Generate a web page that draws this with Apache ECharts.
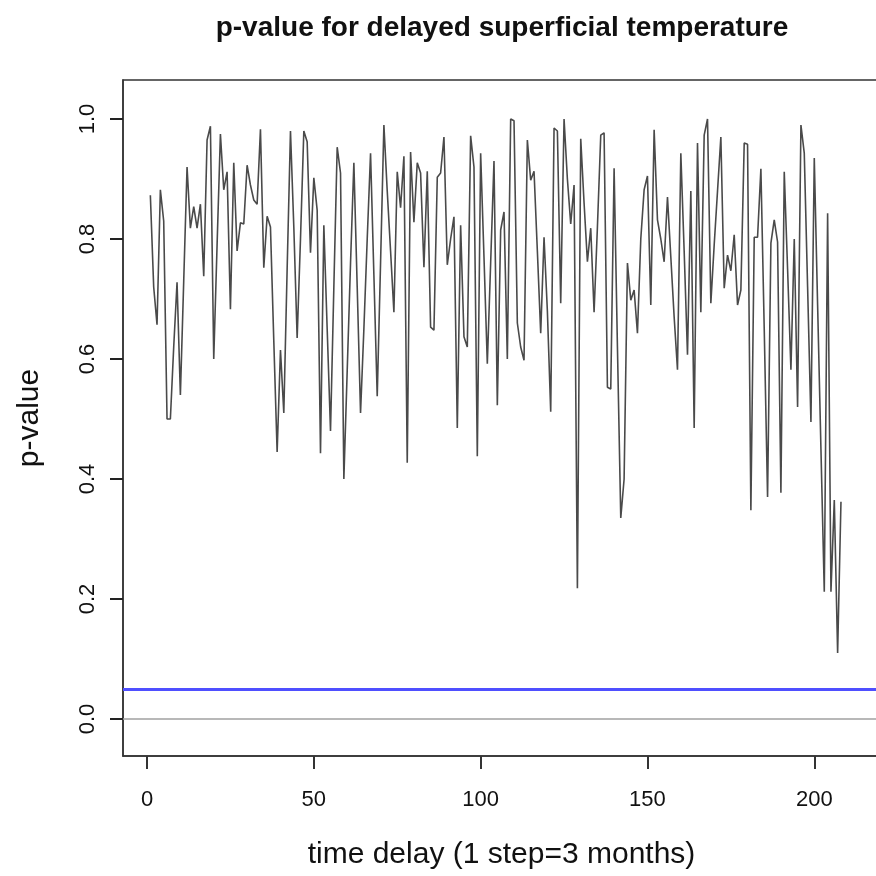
<!DOCTYPE html>
<html>
<head>
<meta charset="utf-8">
<script src="https://cdn.jsdelivr.net/npm/echarts@6/dist/echarts.min.js"></script>
<style>
  html, body { margin: 0; padding: 0; background: #fff; }
  #main { width: 876px; height: 876px; }
</style>
</head>
<body>
<div id="main"></div>
<script>
/* p-value line chart */
var pValues = [
  0.873, 0.72, 0.657, 0.882, 0.83, 0.50, 0.50, 0.62, 0.728, 0.54,
  0.73, 0.92, 0.818, 0.854, 0.818, 0.858, 0.738, 0.965, 0.988, 0.60,
  0.79, 0.975, 0.882, 0.912, 0.683, 0.927, 0.78, 0.827, 0.825, 0.923,
  0.89, 0.865, 0.858, 0.983, 0.752, 0.838, 0.82, 0.63, 0.445, 0.615,
  0.51, 0.75, 0.98, 0.82, 0.635, 0.80, 0.98, 0.962, 0.777, 0.902,
  0.848, 0.443, 0.823, 0.65, 0.48, 0.72, 0.953, 0.91, 0.40, 0.58,
  0.76, 0.927, 0.72, 0.51, 0.65, 0.80, 0.943, 0.74, 0.538, 0.76,
  0.99, 0.88, 0.78, 0.678, 0.912, 0.852, 0.938, 0.427, 0.945, 0.828,
  0.927, 0.91, 0.753, 0.913, 0.653, 0.648, 0.903, 0.91, 0.97, 0.757,
  0.80, 0.837, 0.485, 0.823, 0.637, 0.62, 0.972, 0.92, 0.438, 0.943,
  0.77, 0.592, 0.76, 0.93, 0.523, 0.815, 0.845, 0.60, 1.0, 0.997,
  0.66, 0.62, 0.598, 0.965, 0.898, 0.913, 0.78, 0.643, 0.803, 0.68,
  0.512, 0.985, 0.98, 0.693, 1.0, 0.9, 0.825, 0.89, 0.218, 0.967,
  0.86, 0.762, 0.818, 0.678, 0.82, 0.973, 0.977, 0.553, 0.55, 0.918,
  0.62, 0.335, 0.40, 0.76, 0.698, 0.715, 0.643, 0.80, 0.882, 0.905,
  0.69, 0.982, 0.832, 0.80, 0.762, 0.87, 0.77, 0.67, 0.582, 0.943,
  0.78, 0.607, 0.88, 0.485, 0.96, 0.678, 0.973, 1.0, 0.693, 0.79,
  0.88, 0.97, 0.718, 0.773, 0.747, 0.807, 0.69, 0.715, 0.96, 0.958,
  0.348, 0.803, 0.803, 0.917, 0.65, 0.37, 0.793, 0.832, 0.795, 0.377,
  0.912, 0.75, 0.582, 0.80, 0.52, 0.99, 0.943, 0.72, 0.495, 0.935,
  0.69, 0.45, 0.212, 0.843, 0.212, 0.365, 0.11, 0.362
];
var xTicks = [0, 50, 100, 150, 200];
var yTicks = [0, 0.2, 0.4, 0.6, 0.8, 1.0];
var alphaLevel = 0.05;
var zeroLevel = 0;

// delay step = position in the list (starts at 1)
var lineData = pValues.map(function (v, i) { return [i + 1, v]; });

var myChart = echarts.init(document.getElementById('main'));
var font = 'Liberation Sans';

option = {
  animation: false,
  graphic: [{
    type: 'text',
    style: {
      text: 'p-value for delayed superficial temperature',
      x: 502, y: 28,
      align: 'center', verticalAlign: 'middle',
      font: 'bold 28px "Liberation Sans"',
      fill: '#111'
    }
  }],
  grid: {
    left: 123, top: 80, right: -4, bottom: 120,
    outerBoundsMode: 'none',
    show: true,
    borderColor: '#333',
    borderWidth: 1.5,
    backgroundColor: 'transparent'
  },
  xAxis: {
    type: 'value',
    min: -7.2,
    max: 219.7,
    name: 'time delay (1 step=3 months)',
    nameLocation: 'middle',
    nameGap: 84,
    nameTextStyle: { fontFamily: font, fontSize: 30, color: '#111' },
    axisLine: { onZero: false, lineStyle: { color: '#333', width: 1.5 } },
    axisTick: { show: true, customValues: xTicks, length: 13, lineStyle: { color: '#333', width: 2 } },
    axisLabel: { customValues: xTicks, margin: 33, fontFamily: font, fontSize: 22, color: '#111' },
    splitLine: { show: false }
  },
  yAxis: {
    type: 'value',
    min: -0.0617,
    max: 1.065,
    name: 'p-value',
    nameLocation: 'middle',
    nameGap: 78,
    nameTextStyle: { fontFamily: font, fontSize: 30, color: '#111' },
    axisLine: { show: true, onZero: false, lineStyle: { color: '#333', width: 1.5 } },
    axisTick: { show: true, customValues: yTicks, length: 13, lineStyle: { color: '#222', width: 2 } },
    axisLabel: {
      customValues: yTicks, rotate: 90, margin: 24,
      fontFamily: font, fontSize: 22, color: '#111',
      formatter: function (v) { return v.toFixed(1); }
    },
    splitLine: { show: false }
  },
  series: [{
    type: 'line',
    data: lineData,
    showSymbol: false,
    symbol: 'none',
    lineStyle: { color: '#4a4a4a', width: 1.6 },
    markLine: {
      silent: true,
      symbol: 'none',
      label: { show: false },
      data: [
        { yAxis: zeroLevel, lineStyle: { color: '#a0a0a0', width: 1.5, type: 'solid' } },
        { yAxis: alphaLevel, lineStyle: { color: '#4f4fff', width: 3, type: 'solid' } }
      ]
    }
  }]
};

myChart.setOption(option);
</script>
</body>
</html>
